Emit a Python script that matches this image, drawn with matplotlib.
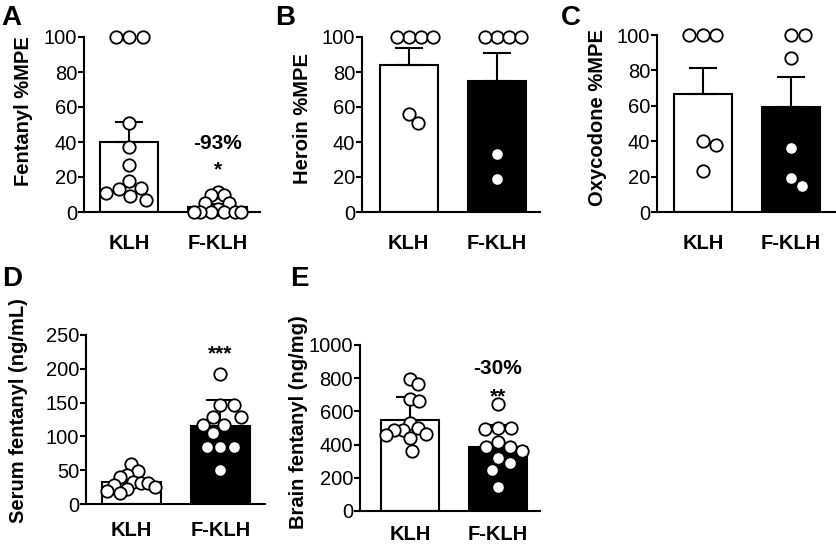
import matplotlib
matplotlib.use('Agg')
import matplotlib.pyplot as plt
import numpy as np

plt.rcParams['font.family'] = ['Liberation Sans', 'DejaVu Sans']

W, H = 836, 545

groups = ['KLH', 'F-KLH']

# A: fentanyl %MPE
fent_klh = [100, 100, 100, 51, 37, 27, 18, 14, 13, 11, 9, 7]
fent_fklh = [11.5, 10, 9.5, 5, 5, 2, 0, 0, 0, 0, 0, 0]
fent_mean = [40, 3]
fent_err = [11.5, 1.5]

# B: heroin %MPE
her_klh = [100, 100, 100, 100, 56, 51]
her_fklh = [100, 100, 100, 100, 33, 19]
her_mean = [84, 75]
her_err = [10, 16]

# C: oxycodone %MPE
oxy_klh = [100, 100, 100, 40, 38, 23]
oxy_fklh = [100, 100, 87, 36, 19, 14.5]
oxy_mean = [66.5, 59.5]
oxy_err = [15, 17]

# D: serum fentanyl (ng/mL)
ser_klh = [59, 49, 43, 40, 33, 31, 31, 28, 25, 22, 19, 17]
ser_fklh = [192, 146, 146, 129, 129, 117, 117, 105, 84, 84, 84, 50]
ser_mean = [32, 115]
ser_err = [12, 39]

# E: brain fentanyl (ng/mg)
brn_klh = [795, 765, 675, 663, 530, 500, 488, 488, 464, 458, 440, 361]
brn_fklh = [645, 501, 501, 495, 416, 386, 386, 361, 319, 289, 247, 145]
brn_mean = [547, 386]
brn_err = [141, 131]


def px_rect(x0, x1, ytop, ybot):
    return [x0 / W, 1 - ybot / H, (x1 - x0) / W, (ybot - ytop) / H]


def swarm(vals, d, xs, ys, maxw):
    # simple beeswarm in pixel space, returns offsets in data units
    y = np.asarray(vals, float) * ys
    placed = []
    offs = np.zeros(len(y))
    for i in range(len(y)):
        cands = [0.0]
        for px, py in placed:
            dy = y[i] - py
            if abs(dy) < d:
                dx = np.sqrt(d * d - dy * dy)
                cands += [px + dx, px - dx]
        cands.sort(key=abs)
        for c in cands:
            if all((c - px) ** 2 + (y[i] - py) ** 2 >= d * d - 1e-6 for px, py in placed):
                break
        placed.append((c, y[i]))
        offs[i] = c
    m = np.abs(offs).max()
    if m > maxw:
        offs = offs * maxw / m
    return offs / xs


def panel(rect, xlim, ylim, yticks, ylabel, lab_xy, klh, fklh, means, errs, xpad=16):
    ax = fig.add_axes(px_rect(*rect))
    x = np.arange(2)
    ax.bar(x, means, width=0.66, color=['white', 'black'], edgecolor='black',
           linewidth=1.5, zorder=1)
    ax.errorbar(x, means, yerr=[np.zeros(2), errs], fmt='none', ecolor='black',
                elinewidth=1.5, capsize=10, capthick=1.5, zorder=2)
    xs = (rect[1] - rect[0]) / (xlim[1] - xlim[0])
    ys = (rect[3] - rect[2]) / (ylim[1] - ylim[0])
    for xi, vals in zip(x, [klh, fklh]):
        off = swarm(vals, 13.5, xs, ys, 24)
        ax.scatter(xi + off, vals, s=80, facecolor='white', edgecolor='black',
                   linewidth=1.3, zorder=3, clip_on=False)
    ax.set_xlim(xlim)
    ax.set_ylim(ylim)
    ax.set_yticks(yticks)
    ax.set_xticks(x)
    ax.set_xticklabels(groups, fontsize=14.5, fontweight='bold')
    ax.tick_params(axis='x', length=0, pad=xpad)
    ax.tick_params(axis='y', length=4.5, width=1.5, labelsize=14.5, pad=0.5)
    for s in ['top', 'right']:
        ax.spines[s].set_visible(False)
    for s in ['left', 'bottom']:
        ax.spines[s].set_linewidth(1.5)
    ax.set_ylabel(ylabel, fontsize=14.5, fontweight='bold')
    # label placed by its right edge and centre, in figure pixels
    lx = (lab_xy[0] - rect[0]) / (rect[1] - rect[0])
    ly = (rect[3] - lab_xy[1]) / (rect[3] - rect[2])
    ax.yaxis.set_label_coords(lx, ly)
    return ax


fig = plt.figure(figsize=(W / 100, H / 100), dpi=100)

axA = panel((84, 260, 37, 212), (-0.51, 1.48), (0, 100), range(0, 101, 20),
            'Fentanyl %MPE', (33, 111), fent_klh, fent_fklh, fent_mean, fent_err)
axA.text(1, 39, '-93%', ha='center', va='center', fontsize=15, fontweight='bold')
axA.text(1, 24, '*', ha='center', va='center', fontsize=15, fontweight='bold')

panel((362, 540, 37, 212), (-0.53, 1.49), (0, 100), range(0, 101, 20),
      'Heroin %MPE', (312, 118), her_klh, her_fklh, her_mean, her_err)

panel((657, 836, 35, 212), (-0.52, 1.51), (0, 100), range(0, 101, 20),
      'Oxycodone %MPE', (607, 117), oxy_klh, oxy_fklh, oxy_mean, oxy_err)

axD = panel((86, 265, 335, 504), (-0.51, 1.5), (0, 250), range(0, 251, 50),
            'Serum fentanyl (ng/mL)', (28, 411), ser_klh, ser_fklh, ser_mean, ser_err,
            xpad=12)
axD.text(1, 222, '***', ha='center', va='center', fontsize=15, fontweight='bold')

axE = panel((360, 540, 345, 511), (-0.57, 1.48), (0, 1000), range(0, 1001, 200),
            'Brain fentanyl (ng/mg)', (308, 422), brn_klh, brn_fklh, brn_mean, brn_err,
            xpad=10)
axE.text(1, 860, '-30%', ha='center', va='center', fontsize=15, fontweight='bold')
axE.text(1, 690, '**', ha='center', va='center', fontsize=15, fontweight='bold')

for lab, x, y in [('A', 1, 5), ('B', 275, 5), ('C', 561, 5), ('D', 2, 266), ('E', 290, 266)]:
    fig.text(x / W, 1 - y / H, lab, ha='left', va='top', fontsize=20, fontweight='bold')

fig.savefig('out.png', dpi=100)
